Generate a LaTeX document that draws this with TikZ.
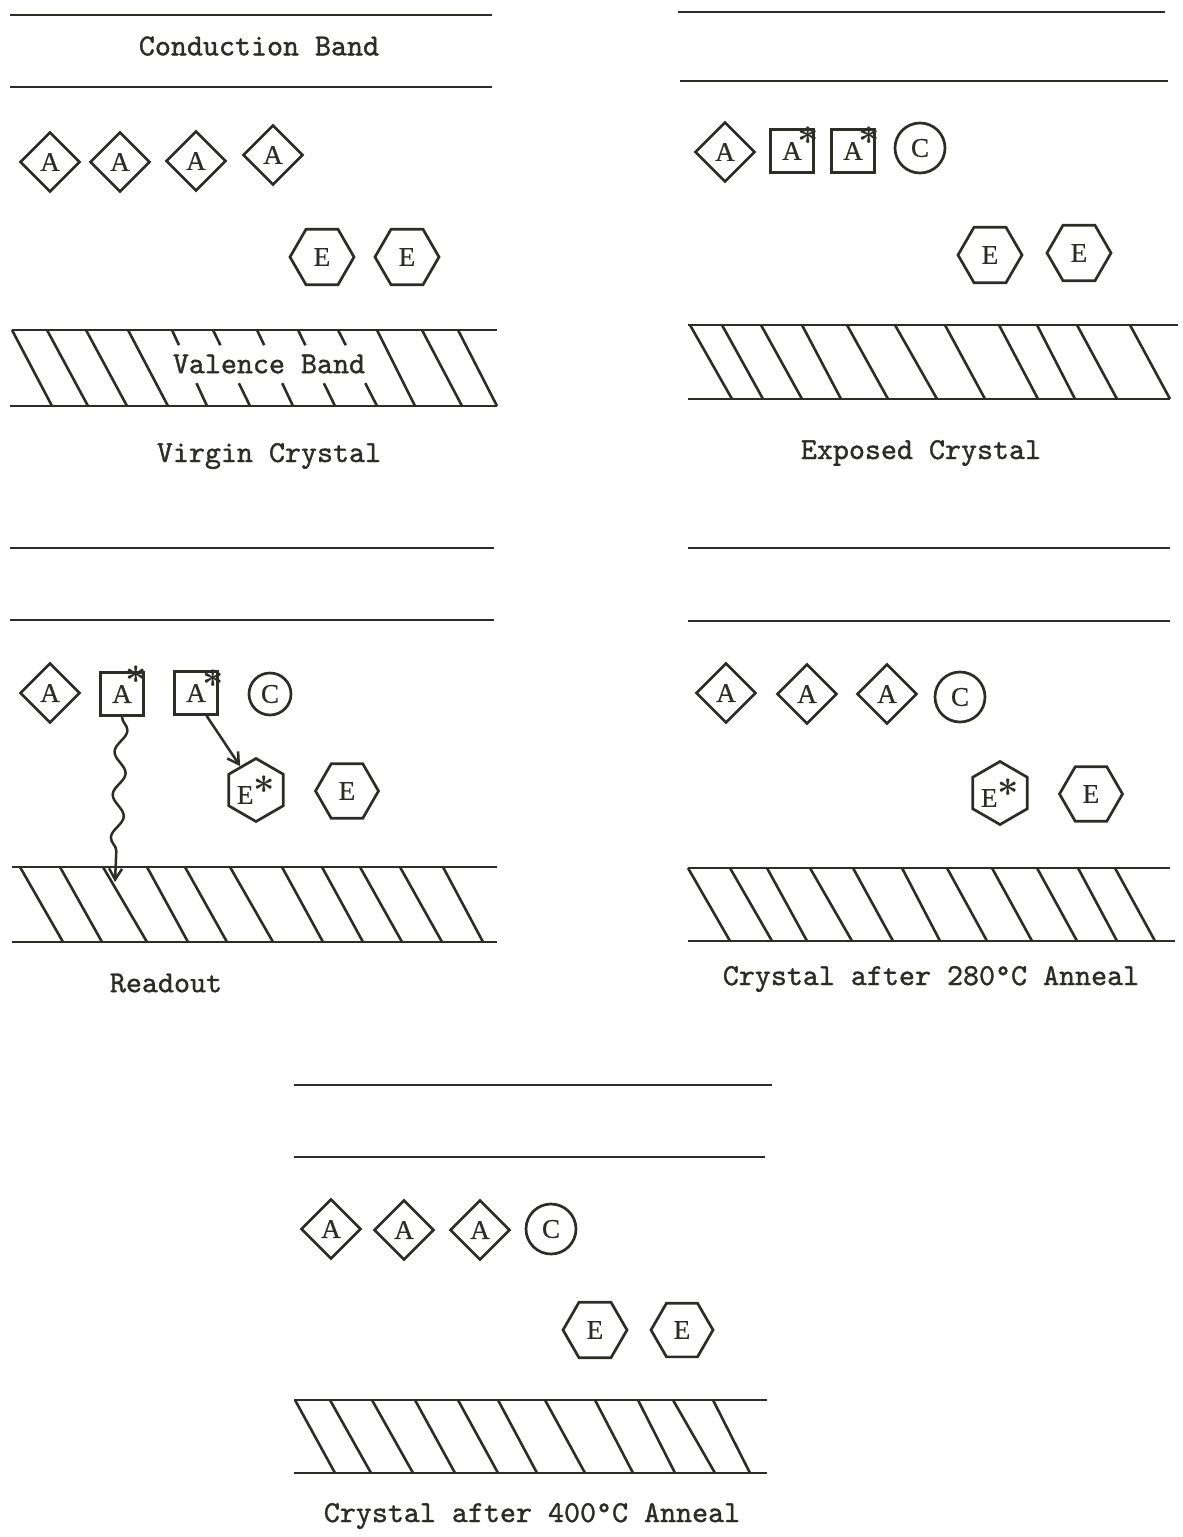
\documentclass[tikz,border=0pt]{standalone}
\usepackage{fontspec}
\usepackage{graphicx}
\usetikzlibrary{shapes.geometric,arrows.meta,decorations.pathmorphing,calc}
\definecolor{ink}{RGB}{45,45,40}
\newfontfamily\twfont{lmmono10-regular.otf}[FakeBold=1.2]
\newfontfamily\shfont{Liberation Serif}[FakeBold=0.6]
\newcommand{\bstar}{\scalebox{1.5}{\boldmath$\ast$}}
\begin{document}
\begin{tikzpicture}[x=1pt,y=-1pt,
  bandline/.style={draw=ink,line width=2.8pt},
  hatchline/.style={draw=ink,line width=2.6pt},
  obj/.style={draw=ink,line width=2.7pt,inner sep=0pt,font=\shfont\fontsize{27}{27}\selectfont,text=ink},
  dia/.style={obj,diamond,minimum width=60pt,minimum height=60pt},
  sqbox/.style={obj,rectangle,minimum width=43pt,minimum height=43pt},
  circ/.style={obj,circle,minimum size=50pt},
  hexf/.style={obj,regular polygon,regular polygon sides=6,minimum size=64pt},
  hexp/.style={obj,regular polygon,regular polygon sides=6,shape border rotate=30,minimum size=63pt},
  lbl/.style={font=\twfont\fontsize{30.5}{32}\selectfont,text=ink,inner sep=0pt},
  starlbl/.style={font=\fontsize{24}{24}\selectfont,text=ink,inner sep=0pt},
  arr/.style={draw=ink,line width=2.5pt,-{Straight Barb[length=11pt,width=13pt]}},
]
\fill[white] (0,0) rectangle (1183,1537);
\path[use as bounding box] (0,0) rectangle (1183,1537);

% ---------------- Panel 1: Virgin Crystal ----------------
\draw[bandline] (10,15) -- (492,15);
\draw[bandline] (10,87) -- (492,87);
\node[lbl] (cb) at (259,46) {Conduction Band};
\node[dia] (p1a1) at (50,162) {A};
\node[dia] (p1a2) at (120,162) {A};
\node[dia] (p1a3) at (196,161) {A};
\node[dia] (p1a4) at (273,155) {A};
\node[hexf] (p1e1) at (322,257) {E};
\node[hexf] (p1e2) at (407,257) {E};
\draw[bandline] (12,330) -- (497,330);
\draw[bandline] (10,406) -- (497,406);
\foreach \a/\b in {12/52,47/88,86/127,128/168,377/415,422/462,458/497}
  \draw[hatchline] (\a,330) -- (\b,406);
\foreach \a/\b in {172/207,213/250,257/293,298/335,338/377}{
  \draw[hatchline] (\a,330) -- ($(\a,330)!0.2!(\b,406)$);
  \draw[hatchline] ($(\a,330)!0.7!(\b,406)$) -- (\b,406);
}
\node[lbl] (vb) at (269,364) {Valence Band};
\node[lbl] (cap1) at (269,456) {Virgin Crystal};

% ---------------- Panel 2: Exposed Crystal ----------------
\draw[bandline] (678,12) -- (1165,12);
\draw[bandline] (680,81) -- (1168,81);
\node[dia] (p2a1) at (725,152) {A};
\node[sqbox] (p2s1) at (792,151) {A};
\node[starlbl] (p2t1) at ($(p2s1.north east)+(-7,8)$) {\bstar};
\node[sqbox] (p2s2) at (853,151) {A};
\node[starlbl] (p2t2) at ($(p2s2.north east)+(-7,8)$) {\bstar};
\node[circ] (p2c) at (920,148) {C};
\node[hexf] (p2e1) at (990,255) {E};
\node[hexf] (p2e2) at (1079,253) {E};
\draw[bandline] (688,325) -- (1178,325);
\draw[bandline] (688,399) -- (1170,399);
\foreach \a/\b in {690/732,722/763,761/802,802/841,847/888,895/937,945/985,999/1038,1037/1075,1077/1117,1130/1170}
  \draw[hatchline] (\a,325) -- (\b,399);
\node[lbl] (cap2) at (921,453) {Exposed Crystal};

% ---------------- Panel 3: Readout ----------------
\draw[bandline] (10,548) -- (494,548);
\draw[bandline] (10,620) -- (494,620);
\node[dia] (p3a1) at (50,693) {A};
\node[sqbox] (p3s1) at (122,694) {A};
\node[starlbl] (p3t1) at ($(p3s1.north east)+(-9,4)$) {\bstar};
\node[sqbox] (p3s2) at (196,693) {A};
\node[starlbl] (p3t2) at ($(p3s2.north east)+(-6,9)$) {\bstar};
\node[circ,minimum size=42pt] (p3c) at (270,694) {C};
\node[hexp] (p3es) at (256,790) {\raisebox{-8pt}{E}\raisebox{2pt}{\fontsize{24}{24}\selectfont\bstar}};
\node[hexf,minimum size=63pt] (p3e) at (347,791) {E};
\draw[bandline] (12,867) -- (497,867);
\draw[bandline] (12,942) -- (497,942);
\foreach \a/\b in {20/63,60/102,103/147,147/188,185/227,230/273,282/323,322/363,360/402,400/442,443/483}
  \draw[hatchline] (\a,867) -- (\b,942);
\coordinate (wend) at (115,882);
\draw[arr,decorate,decoration={snake,segment length=43pt,amplitude=6pt,post length=12pt}] (p3s1.south) -- (wend);
\draw[arr] (p3s2.-65) -- (p3es);
\node[lbl] (cap3) at (166,983) {Readout};

% ---------------- Panel 4: Crystal after 280C Anneal ----------------
\draw[bandline] (688,548) -- (1170,548);
\draw[bandline] (688,621) -- (1170,621);
\node[dia] (p4a1) at (726,693) {A};
\node[dia] (p4a2) at (807,694) {A};
\node[dia] (p4a3) at (887,694) {A};
\node[circ] (p4c) at (960,697) {C};
\node[hexp] (p4es) at (1000,793) {\raisebox{-8pt}{E}\raisebox{2pt}{\fontsize{24}{24}\selectfont\bstar}};
\node[hexf,minimum size=63pt] (p4e) at (1091,794) {E};
\draw[bandline] (688,868) -- (1170,868);
\draw[bandline] (688,941) -- (1175,941);
\foreach \a/\b in {688/730,730/772,767/807,810/852,853/893,902/940,947/987,992/1032,1037/1077,1078/1117,1115/1155}
  \draw[hatchline] (\a,868) -- (\b,941);
\node[lbl] (cap4) at (931,979) {Crystal after 280°C Anneal};

% ---------------- Panel 5: Crystal after 400C Anneal ----------------
\draw[bandline] (294,1085) -- (772,1085);
\draw[bandline] (294,1157) -- (765,1157);
\node[dia] (p5a1) at (331,1229) {A};
\node[dia] (p5a2) at (404,1230) {A};
\node[dia] (p5a3) at (480,1230) {A};
\node[circ] (p5c) at (551,1229) {C};
\node[hexf] (p5e1) at (595,1330) {E};
\node[hexf,minimum size=62pt] (p5e2) at (682,1330) {E};
\draw[bandline] (294,1400) -- (767,1400);
\draw[bandline] (294,1473) -- (767,1473);
\foreach \a/\b in {295/335,330/371,372/413,415/455,458/498,498/537,545/585,595/633,638/675,673/715,713/750}
  \draw[hatchline] (\a,1400) -- (\b,1473);
\node[lbl] (cap5) at (532,1516) {Crystal after 400°C Anneal};
\end{tikzpicture}
\end{document}
